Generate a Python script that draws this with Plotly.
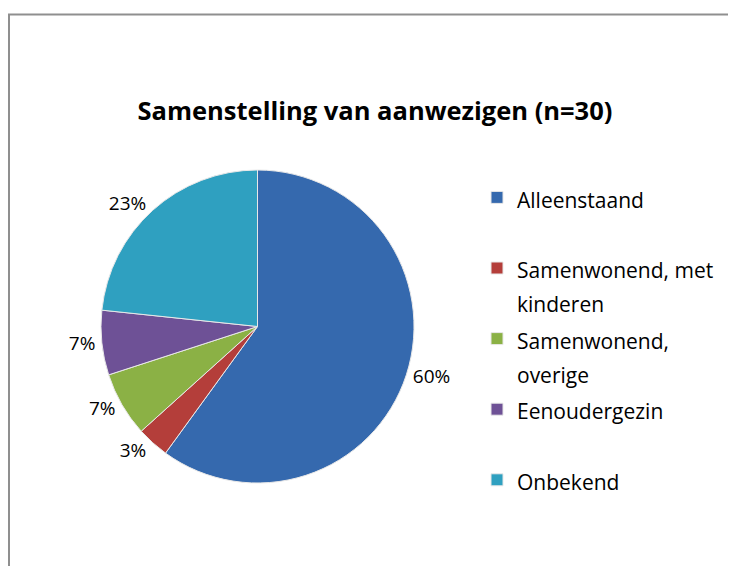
import plotly.graph_objects as go

W, H = 736, 574
OFF = 8  # page body margin; figure sits 8px in from the window corner

labels = ["Alleenstaand", "Samenwonend, met<br>kinderen", "Samenwonend,<br>overige",
          "Eenoudergezin", "Onbekend"]
counts = [18, 1, 2, 2, 7]
colors = ["#3569ae", "#b43e3a", "#8bb145", "#6e5196", "#2fa0c0"]

# every legend entry gets two lines; big base font gives the wide spacing,
# the visible text is set smaller with a span
span = '<span style="font-size:21px">'
legend_text = []
for l in labels:
    if "<br>" not in l:
        l = l + "<br> "
    legend_text.append(span + l.replace("<br>", "</span><br>" + span) + "</span>")

FW, FH = W - 2 * OFF, H - 2 * OFF


def px(x):
    # window pixel -> paper fraction
    return (x - OFF) / FW


def py(y):
    return 1 - (y - OFF) / FH


fig = go.Figure(
    go.Pie(
        labels=legend_text,
        values=counts,
        sort=False,
        direction="clockwise",
        rotation=0,
        marker=dict(colors=colors, line=dict(color="#e8e8e8", width=1)),
        textposition="outside",
        texttemplate="%{percent:.0%}",
        textfont=dict(size=19, color="#000000", family="Open Sans"),
        domain=dict(x=[px(101), px(414)], y=[py(483), py(170)]),
        showlegend=True,
        hoverinfo="value+percent",
    )
)

fig.update_layout(
    width=FW,
    height=FH,
    margin=dict(l=0, r=0, t=0, b=0),
    paper_bgcolor="white",
    plot_bgcolor="white",
    font=dict(family="Open Sans", color="#000000"),
    title=dict(
        text="<b>Samenstelling van aanwezigen (n=30)</b>",
        font=dict(size=25.5, family="Open Sans", color="#000000"),
        x=px(375), xanchor="center",
        y=py(111), yanchor="middle",
    ),
    legend=dict(
        x=px(477), xanchor="left",
        y=py(174), yanchor="top",
        valign="top",
        font=dict(size=26, family="Open Sans", color="#000000"),
        bgcolor="rgba(0,0,0,0)",
    ),
    shapes=[
        dict(type="rect", xref="paper", yref="paper",
             x0=px(9), x1=px(800), y0=py(14.5), y1=py(700),
             line=dict(color="#8f8f8f", width=2), fillcolor="rgba(0,0,0,0)", layer="below"),
    ],
)

fig.write_html("out.html")
